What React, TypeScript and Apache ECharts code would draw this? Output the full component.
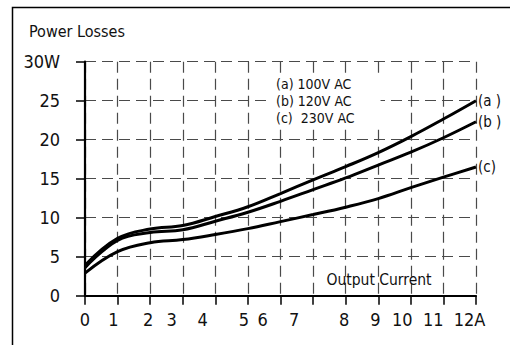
import React, { useEffect, useRef } from "react";
import * as echarts from "echarts";

const FONT = '"Liberation Sans Narrow", "DejaVu Sans Condensed", "Roboto", sans-serif';

// Output current (A) sample points
const currentA: number[] = [0, 1, 2, 3, 4, 5, 6, 7, 8, 9, 10, 11, 12];
// Power losses (W)
const lossA100: number[] = [3.9, 7.35, 8.55, 9.0, 10.15, 11.4, 13.1, 14.85, 16.55, 18.35, 20.4, 22.65, 25.0];
const lossB120: number[] = [3.6, 7.1, 8.1, 8.45, 9.55, 10.7, 12.1, 13.6, 15.1, 16.75, 18.4, 20.25, 22.3];
const lossC230: number[] = [2.9, 5.65, 6.8, 7.2, 7.85, 8.6, 9.5, 10.4, 11.35, 12.45, 13.85, 15.2, 16.5];

const seriesTags: string[] = ["(a)", "(b)", "(c)"];
const endTags: string[] = ["(a )", "(b )", "(c)"];
const voltages: string[] = ["100V AC", "120V AC", "230V AC"];
const legendLines: string[] = ["(a) 100V AC", "(b) 120V AC", "(c)  230V AC"];

// x tick labels, and where the original printed them along the axis
const xTickLabels: string[] = ["0", "1", "2", "3", "4", "5", "6", "7", "8", "9", "10", "11", "12A"];
const xLabelAt: number[] = [0, 0.87, 1.94, 2.66, 3.61, 4.88, 5.45, 6.42, 7.95, 8.91, 9.74, 10.69, 11.8];

const yTicks: number[] = [0, 5, 10, 15, 20, 25, 30];
const yUnit = "W";

export default function App() {
  const ref = useRef<HTMLDivElement>(null);
  useEffect(() => {
    if (!ref.current) return;
    const chart = echarts.init(ref.current, null, { renderer: "svg" });
    const allSeries = [lossA100, lossB120, lossC230];
    const gridLine = { show: true, lineStyle: { color: "#4a4a4a", width: 1.2, type: [11, 6] as any } };
    chart.setOption({
      animation: false,
      backgroundColor: "#fff",
      title: {
        text: "Power Losses",
        left: 24,
        top: 18,
        textStyle: { fontFamily: FONT, fontSize: 16, fontWeight: "normal", color: "#111" },
      },
      grid: { left: 85, right: 34, top: 61.7, bottom: 49.3, containLabel: false },
      xAxis: {
        type: "value",
        min: 0,
        max: 12,
        interval: 1,
        axisLine: { show: true, onZero: false, lineStyle: { color: "#000", width: 2.2 } },
        axisTick: { show: true, length: 9, lineStyle: { color: "#000", width: 1.5 } },
        splitLine: gridLine,
        axisLabel: {
          customValues: xLabelAt,
          margin: 15,
          fontFamily: FONT,
          fontSize: 18,
          color: "#111",
          formatter: (v: number) => {
            const i = xLabelAt.indexOf(v);
            return i >= 0 ? xTickLabels[i] : "";
          },
        },
      },
      yAxis: {
        type: "value",
        min: yTicks[0],
        max: yTicks[yTicks.length - 1],
        interval: 5,
        axisLine: { show: true, onZero: false, lineStyle: { color: "#000", width: 2.2 } },
        axisTick: { show: true, length: 9, lineStyle: { color: "#000", width: 1.5 } },
        splitLine: gridLine,
        axisLabel: {
          margin: 25,
          fontFamily: FONT,
          fontSize: 18,
          color: "#111",
          formatter: (v: number) => (v === yTicks[yTicks.length - 1] ? `${v}${yUnit}` : `${v}`),
        },
      },
      series: allSeries.map((vals, si) => ({
        type: "line",
        name: `${seriesTags[si]} ${voltages[si]}`,
        data: currentA.map((x, i) => [x, vals[i]]),
        smooth: 0.4,
        symbol: "none",
        lineStyle: { color: "#000", width: 3 },
        z: 5,
        endLabel: {
          show: true,
          formatter: endTags[si],
          distance: 2,
          fontFamily: FONT,
          fontSize: 15,
          color: "#111",
        },
      })),
      graphic: [
        {
          type: "polyline",
          shape: { points: [[12.5, 345], [12.5, 7.5], [510, 7.5]] },
          style: { stroke: "#000", lineWidth: 1.5, fill: "none" },
          z: 10,
        },
        {
          type: "text",
          x: 268,
          y: 74,
          z: 20,
          style: {
            text: legendLines.join("\n"),
            fontFamily: FONT,
            fontSize: 14,
            lineHeight: 17,
            fill: "#111",
            backgroundColor: "#fff",
            padding: [1, 26, 1, 8],
          },
        },
        {
          type: "text",
          x: 379,
          y: 280,
          z: 20,
          style: {
            text: "Output Current",
            fontFamily: FONT,
            fontSize: 15.5,
            fill: "#111",
            align: "center",
            verticalAlign: "middle",
          },
        },
      ],
    });
    return () => chart.dispose();
  }, []);
  return (
    <div
      ref={ref}
      style={{ position: "absolute", left: 0, top: 0, width: 510, height: 345 }}
    />
  );
}
